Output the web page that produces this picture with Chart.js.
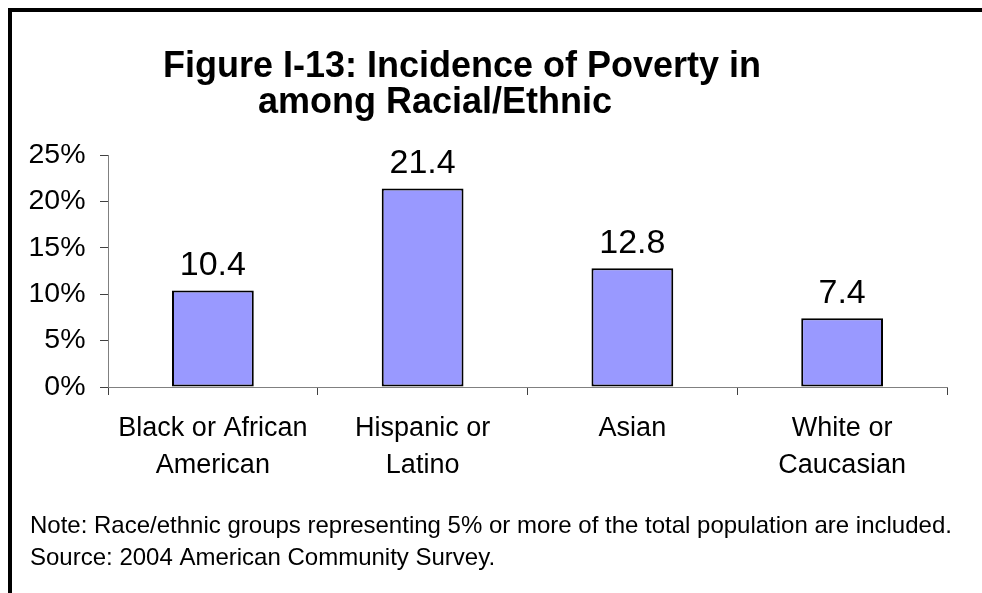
<!DOCTYPE html>
<html>
<head>
<meta charset="utf-8">
<script src="https://cdn.jsdelivr.net/npm/chart.js@4"></script>
<style>
  html, body { margin: 0; padding: 0; background: #fff; }
  #wrap { position: relative; width: 982px; height: 593px; overflow: hidden; }
  #frame { position: absolute; left: 8px; top: 8px; right: -20px; bottom: -20px;
           border-top: 4px solid #000; border-left: 4px solid #000; }
  #c { position: absolute; left: 0; top: 0; }
</style>
</head>
<body>
<div id="wrap">
  <div id="frame"></div>
  <canvas id="c" width="982" height="593"></canvas>
</div>
<script>
// Chart text and data
const titleLines = ['Figure I-13: Incidence of Poverty in', 'among Racial/Ethnic'];
const categories = [
  ['Black or African', 'American'],
  ['Hispanic or', 'Latino'],
  ['Asian'],
  ['White or', 'Caucasian']
];
const povertyRates = [10.4, 21.4, 12.8, 7.4];
const yTickMax = 25;
const yTickStep = 5;
const noteLines = [
  'Note: Race/ethnic groups representing 5% or more of the total population are included.',
  'Source: 2004 American Community Survey.'
];

const FONT = '"Liberation Sans", Arial, sans-serif';

// Value labels above each bar
const valueLabels = {
  id: 'valueLabels',
  afterDatasetsDraw(chart) {
    const ctx = chart.ctx;
    const meta = chart.getDatasetMeta(0);
    ctx.save();
    ctx.font = '34px ' + FONT;
    ctx.fillStyle = '#000';
    ctx.textAlign = 'center';
    ctx.textBaseline = 'alphabetic';
    meta.data.forEach((bar, i) => {
      ctx.fillText(String(chart.data.datasets[0].data[i]), bar.x, bar.y - 15);
    });
    ctx.restore();
  }
};

// Heading and footnotes
const heading = {
  id: 'heading',
  afterDraw(chart) {
    const ctx = chart.ctx;
    ctx.save();
    ctx.fillStyle = '#000';
    ctx.textBaseline = 'alphabetic';
    ctx.textAlign = 'center';
    ctx.font = 'bold 36px ' + FONT;
    ctx.fillText(titleLines[0], 462, 77);
    ctx.fillText(titleLines[1], 435, 113);
    ctx.textAlign = 'left';
    ctx.font = '24px ' + FONT;
    ctx.fillText(noteLines[0], 30, 533);
    ctx.fillText(noteLines[1], 30, 565);
    ctx.restore();
  }
};

new Chart(document.getElementById('c'), {
  type: 'bar',
  data: {
    labels: categories,
    datasets: [{
      data: povertyRates,
      backgroundColor: '#9999FF',
      borderColor: '#000',
      borderWidth: 2,
      borderSkipped: false,
      categoryPercentage: 1,
      barPercentage: 0.39
    }]
  },
  options: {
    responsive: false,
    animation: false,
    devicePixelRatio: 1,
    layout: { padding: { top: 155, right: 35, left: 0, bottom: 0 } },
    plugins: {
      legend: { display: false },
      tooltip: { enabled: false }
    },
    scales: {
      x: {
        afterFit(scale) { scale.height = 206; },
        grid: { offset: true, drawOnChartArea: false, drawTicks: true, tickLength: 8, color: '#404040' },
        border: { color: '#808080', width: 1 },
        ticks: {
          color: '#000',
          padding: 15,
          maxRotation: 0,
          autoSkip: false,
          font: { family: FONT, size: 27, lineHeight: 1.37 }
        }
      },
      y: {
        min: 0,
        max: yTickMax,
        afterFit(scale) { scale.width = 108; },
        grid: { drawOnChartArea: false, drawTicks: true, tickLength: 8, color: '#404040' },
        border: { color: '#808080', width: 1 },
        ticks: {
          stepSize: yTickStep,
          color: '#000',
          padding: 14.5,
          font: { family: FONT, size: 28.5 },
          callback: v => v + '%'
        }
      }
    }
  },
  plugins: [valueLabels, heading]
});
</script>
</body>
</html>
